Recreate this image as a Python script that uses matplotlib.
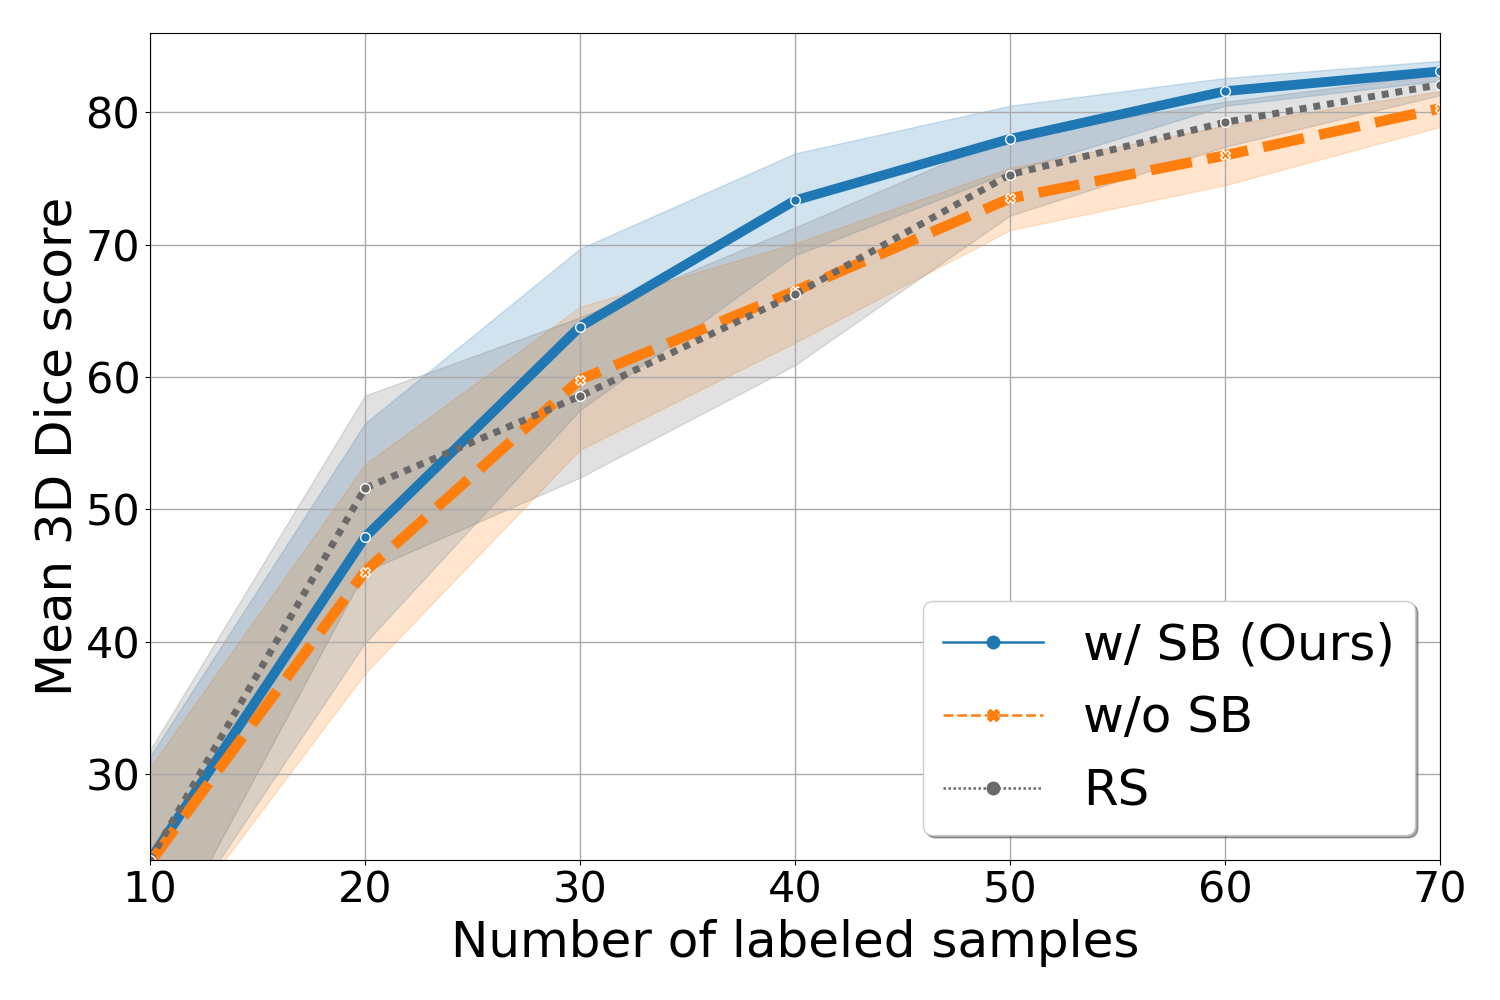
import matplotlib
matplotlib.use("Agg")
import matplotlib.pyplot as plt
from matplotlib.lines import Line2D

# number of labeled samples
n_labeled = [10, 20, 30, 40, 50, 60, 70]

# w/ SB (Ours)
sb_mean = [23.5, 47.9, 63.8, 73.35, 78.0, 81.6, 83.1]
sb_hi = [31.3, 56.5, 69.7, 76.9, 80.5, 82.6, 83.9]
sb_lo = [15.7, 39.9, 57.5, 69.2, 75.5, 80.5, 82.4]

# w/o SB
nosb_mean = [23.3, 45.3, 59.8, 66.5, 73.5, 76.75, 80.3]
nosb_hi = [30.5, 53.4, 65.3, 70.1, 75.8, 79.0, 81.6]
nosb_lo = [16.0, 37.6, 54.5, 62.6, 71.1, 74.5, 78.9]

# RS
rs_mean = [23.5, 51.6, 58.55, 66.25, 75.3, 79.25, 82.1]
rs_hi = [31.8, 58.6, 64.5, 71.3, 78.3, 80.8, 82.9]
rs_lo = [15.0, 45.3, 52.4, 60.9, 72.2, 77.4, 81.3]

series = [
    ("w/ SB (Ours)", sb_mean, sb_lo, sb_hi, "#1f77b4", "-", "o", 7.0),
    ("w/o SB", nosb_mean, nosb_lo, nosb_hi, "#ff7f0e", (0, (4, 1.5)), "X", 7.5),
    ("RS", rs_mean, rs_lo, rs_hi, "dimgray", (0, (1, 1)), "o", 5.0),
]

fig = plt.figure(figsize=(15, 10), dpi=100)
ax = fig.add_axes([0.1, 0.14, 0.86, 0.827])

handles = []
for label, m, lo, hi, col, ls, mk, lw in series:
    ax.fill_between(n_labeled, lo, hi, color=col, alpha=0.2, lw=1)
    ax.plot(n_labeled, m, color=col, ls=ls, lw=lw, marker=mk, ms=7,
            mec="white", mew=1.0)
    handles.append(Line2D([], [], color=col, ls=ls, lw=1.8, marker=mk, ms=9,
                          mec=col))

ax.set_xlim(10, 70)
ax.set_ylim(23.5, 86)
ax.set_yticks([30, 40, 50, 60, 70, 80])
ax.grid(True, color="#aaaaaa", lw=1)
ax.tick_params(labelsize=31)
ax.set_xlabel("Number of labeled samples", fontsize=36, labelpad=5)
ax.set_ylabel("Mean 3D Dice score", fontsize=36, labelpad=3)

ax.legend(handles, [s[0] for s in series], loc="lower right", fontsize=36,
          shadow=True, framealpha=1, borderpad=0.4, handlelength=2.0)

fig.savefig("out.png", dpi=100)
